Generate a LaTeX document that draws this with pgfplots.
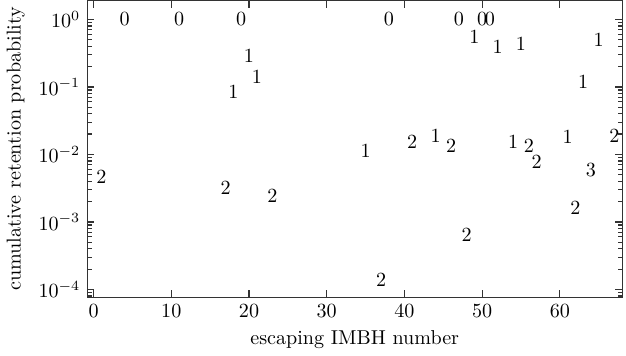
\documentclass[border=0pt]{standalone}
\usepackage{pgfplots}
\usepackage{pgfplotstable}
\pgfplotsset{compat=1.18}
\pgfplotstableread{
x y l
1 4.7e-3 2
4 1.0 0
11 1.0 0
19 1.0 0
20 0.29 1
21 0.14 1
18 0.085 1
17 3.2e-3 2
23 2.4e-3 2
38 1.0 0
35 0.0115 1
41 0.0156 2
44 0.019 1
46 0.0136 2
47 1.0 0
50 1.0 0
51 1.0 0
49 0.56 1
52 0.39 1
55 0.44 1
65 0.5 1
63 0.118 1
54 0.0156 1
56 0.0136 2
57 7.9e-3 2
61 0.0185 1
67 0.019 2
64 5.8e-3 3
62 1.6e-3 2
48 6.4e-4 2
37 1.4e-4 2
}\pts
\begin{document}
\begin{tikzpicture}
\begin{semilogyaxis}[
  scale only axis,
  width=266pt, height=147.5pt,
  xmin=-0.8, xmax=68,
  ymin=7.7e-5, ymax=1.9,
  xtick={0,10,20,30,40,50,60},
  ytick={1e-4,1e-3,1e-2,1e-1,1},
  yminorticks=true,
  minor ytick={8e-5,9e-5,
    2e-4,3e-4,4e-4,5e-4,6e-4,7e-4,8e-4,9e-4,
    2e-3,3e-3,4e-3,5e-3,6e-3,7e-3,8e-3,9e-3,
    2e-2,3e-2,4e-2,5e-2,6e-2,7e-2,8e-2,9e-2,
    0.2,0.3,0.4,0.5,0.6,0.7,0.8,0.9},
  major tick length=3.5pt,
  minor tick length=2.2pt,
  tick style={black!80, line width=0.6pt},
  axis line style={black!80},
  xlabel={escaping IMBH number},
  ylabel={cumulative retention probability},
]
\addplot[draw=none, mark=none, nodes near coords, point meta=explicit symbolic,
  nodes near coords align={center}] table[x=x, y=y, meta=l] {\pts};
\end{semilogyaxis}
\end{tikzpicture}
\end{document}
